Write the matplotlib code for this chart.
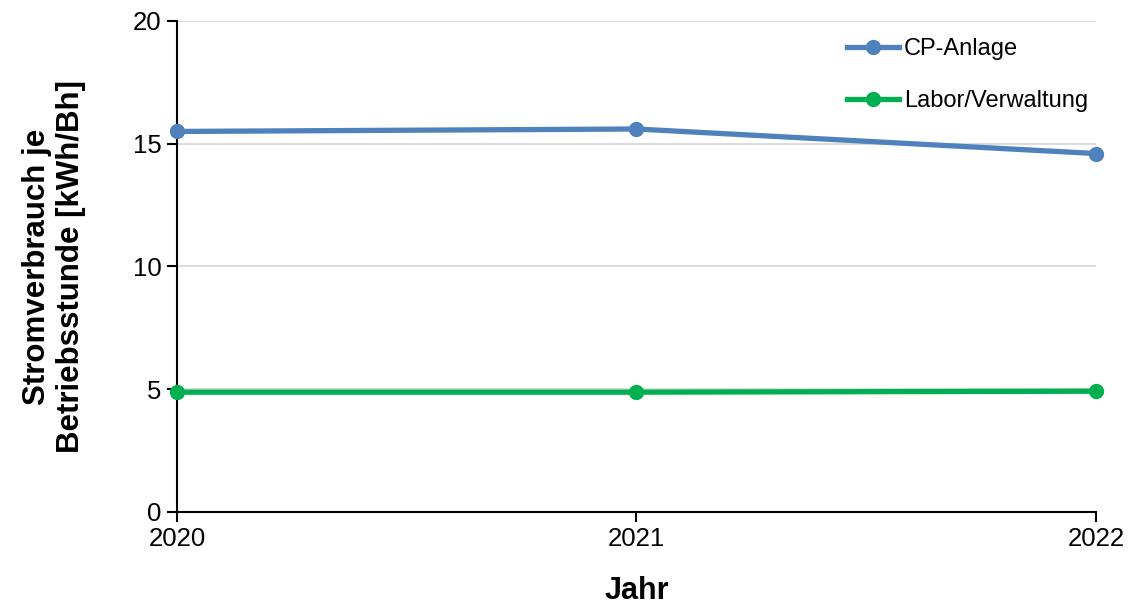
import matplotlib.pyplot as plt

plt.rcParams['font.family'] = ['Liberation Sans', 'DejaVu Sans']

# Strombedarf je Betriebsstunde
jahre = [2020, 2021, 2022]
cp_anlage = [15.5, 15.6, 14.6]
labor_verwaltung = [4.88, 4.88, 4.92]

y_ticks = [0, 5, 10, 15, 20]

fig = plt.figure(figsize=(11.3, 6.1), dpi=100)
ax = fig.add_axes([0.1566, 0.1607, 0.8133, 0.8049])

ax.plot(jahre, cp_anlage, color='#4F81BD', lw=3.8, marker='o', ms=10,
        label='CP-Anlage', clip_on=False, zorder=4)
ax.plot(jahre, labor_verwaltung, color='#00B050', lw=3.8, marker='o', ms=10,
        label='Labor/Verwaltung', clip_on=False, zorder=4)

ax.set_xlim(2020, 2022)
ax.set_ylim(0, 20)
ax.set_xticks(jahre)
ax.set_xticklabels([str(j) for j in jahre])
ax.set_yticks(y_ticks)

ax.grid(axis='y', color='#D9D9D9', lw=1.3)
ax.set_axisbelow(True)
for side in ['top', 'right']:
    ax.spines[side].set_visible(False)
for side in ['left', 'bottom']:
    ax.spines[side].set_linewidth(1.5)
    ax.spines[side].set_color('black')

ax.tick_params(axis='both', labelsize=18.5, length=7, width=1.5, direction='out', pad=4)

ax.set_xlabel('Jahr', fontsize=22, fontweight='bold', labelpad=18)
ax.set_ylabel('Stromverbrauch je\nBetriebsstunde [kWh/Bh]', fontsize=22.5,
              fontweight='bold', labelpad=34, linespacing=1.15)

ax.legend(loc='upper left', bbox_to_anchor=(0.706, 1.008), frameon=False,
          fontsize=17, handlelength=2.2, handletextpad=0.2, labelspacing=1.25)

fig.savefig('out.png', dpi=100)
